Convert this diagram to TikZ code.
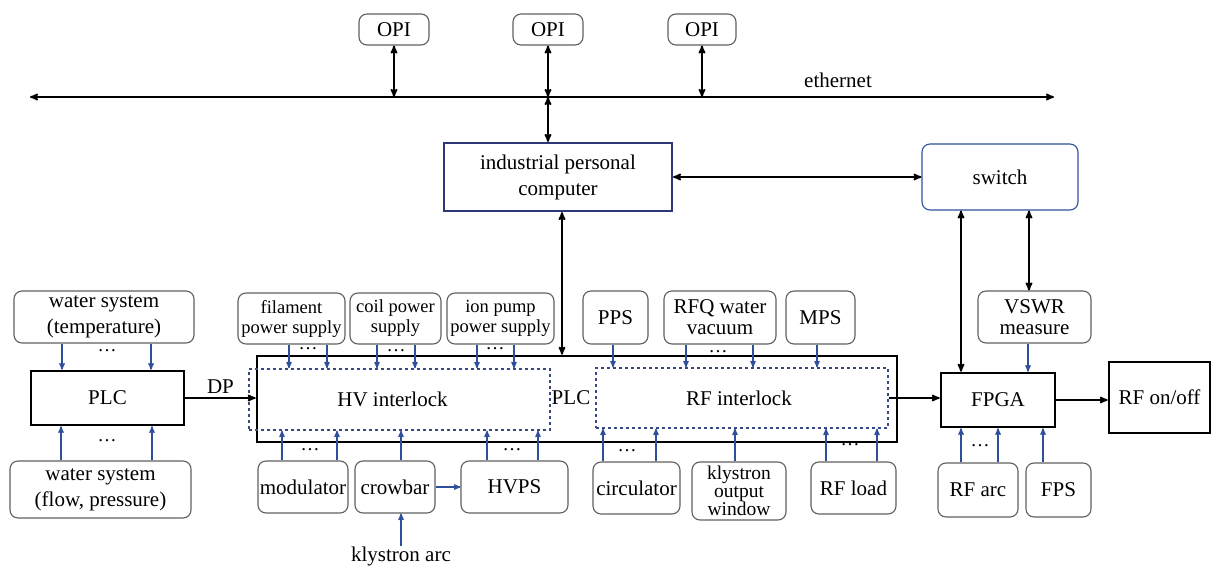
\documentclass[tikz,border=0pt]{standalone}
\usepackage{fontspec}
\setmainfont{Liberation Serif}
\usepackage{tikz}
\usetikzlibrary{arrows,calc}
\usepackage{xcolor}
\definecolor{sigblue}{RGB}{46,80,155}
\definecolor{dashnavy}{RGB}{55,72,135}
\definecolor{ipcnavy}{RGB}{45,55,120}
\definecolor{boxgray}{RGB}{95,95,95}

\begin{document}
\begin{tikzpicture}[x=1pt,y=-1pt,>=stealth',
	font=\fontsize{21}{26}\selectfont,
	rbox/.style={draw=boxgray,line width=1.1pt,rounded corners=8pt,align=center,inner sep=0pt},
	frame/.style={draw=black,line width=2.6pt,inner sep=0pt},
	dbox/.style={draw=dashnavy,dashed,line width=1.3pt,inner sep=0pt},
	small/.style={font=\fontsize{18.5}{20}\selectfont},
	tight/.style={font=\fontsize{21}{21}\selectfont},
	gap/.style={inner sep=0pt,font=\fontsize{19}{19}\selectfont},
	link/.style={draw=black,line width=1.7pt},
	sig/.style={->,draw=sigblue,line width=1.3pt}]
	\useasboundingbox (0,0) rectangle (1213,567);

	% ethernet and operator interfaces
	\node[rbox,minimum width=70,minimum height=31] (opi1) at (394,29.5) {OPI};
	\node[rbox,minimum width=70,minimum height=31] (opi2) at (548,29.5) {OPI};
	\node[rbox,minimum width=68,minimum height=31] (opi3) at (702,29.5) {OPI};
	\coordinate (ethL) at (30,97);
	\coordinate (ethR) at (1054,97);
	\node[inner sep=1pt] (ethtxt) at (838,80) {ethernet};

	\node[draw=ipcnavy,line width=2.2pt,align=center,inner sep=0pt,minimum width=228,minimum height=68] (ipc) at (558,177) {industrial personal\\computer};
	\node[rbox,draw=sigblue,minimum width=156,minimum height=66] (sw) at (1000,177) {switch};

	% PLC side
	\node[rbox,minimum width=180,minimum height=52] (wst) at (104,317) {water system\\(temperature)};
	\node[frame,minimum width=153,minimum height=54] (plcs) at (107.5,398) {PLC};
	\node[rbox,minimum width=181,minimum height=57] (wsf) at (100.5,489.5) {water system\\(flow, pressure)};

	\node[frame,minimum width=640,minimum height=86] (plc) at (577,399) {};
	\node[inner sep=1pt] (plctxt) at (571,398) {PLC};
	\node[dbox,minimum width=301,minimum height=61] (hv) at (399.5,399.5) {HV interlock\hspace*{14pt}};
	\node[dbox,minimum width=292,minimum height=60] (rf) at (742,398) {RF interlock\hspace*{6pt}};

	\node[rbox,small,minimum width=107,minimum height=51] (fil) at (291.5,318.5) {filament\\power supply};
	\node[rbox,small,minimum width=91,minimum height=51] (coil) at (395.5,318.5) {coil power\\supply};
	\node[rbox,small,minimum width=107,minimum height=51] (ion) at (500.5,318.5) {ion pump\\power supply};
	\node[rbox,minimum width=65,minimum height=53] (pps) at (615.5,317.5) {PPS};
	\node[rbox,tight,minimum width=112,minimum height=53] (rfq) at (720,317.5) {RFQ water\\vacuum};
	\node[rbox,minimum width=69,minimum height=53] (mps) at (820.5,317.5) {MPS};

	\node[rbox,minimum width=90,minimum height=52] (mod) at (303,487) {modulator};
	\node[rbox,minimum width=80,minimum height=52] (crow) at (395,487) {crowbar};
	\node[rbox,minimum width=107,minimum height=52] (hvps) at (514.5,487) {HVPS};
	\node[inner sep=1pt,anchor=north] (karc) at (401,546) {klystron arc};
	\node[rbox,minimum width=87,minimum height=52] (circ) at (636.5,488) {circulator};
	\node[rbox,font=\fontsize{19.5}{18}\selectfont,minimum width=94,minimum height=58] (kow) at (739,491) {klystron\\output\\window};
	\node[rbox,minimum width=85,minimum height=52] (load) at (853.5,488) {RF load};

	% FPGA side
	\node[rbox,tight,minimum width=113,minimum height=52] (vswr) at (1034.5,317) {VSWR\\measure};
	\node[frame,minimum width=114,minimum height=54] (fpga) at (998,400) {FPGA};
	\node[frame,minimum width=101,minimum height=71] (rfo) at (1159.5,397.5) {RF on/off};
	\node[rbox,minimum width=80,minimum height=54] (arc) at (978,490) {RF arc};
	\node[rbox,minimum width=65,minimum height=54] (fps) at (1058.5,490) {FPS};

	% dots
	\node[gap] (d1) at (107,351) {\dots};
	\node[gap] (d2) at (107,441) {\dots};
	\node[gap] (d3) at (308,349) {\dots};
	\node[gap] (d4) at (396,351) {\dots};
	\node[gap] (d5) at (495,349) {\dots};
	\node[gap] (d6) at (718,352) {\dots};
	\node[gap] (d7) at (310,450) {\dots};
	\node[gap] (d8) at (512,450) {\dots};
	\node[gap] (d9) at (627,451) {\dots};
	\node[gap] (d10) at (850,445) {\dots};
	\node[gap] (d11) at (980,446) {\dots};

	% network links
	\draw[link,<->] (ethL) -- (ethR);
	\draw[link,<->] (opi1.south) -- (opi1.south |- ethL);
	\draw[link,<->] (opi2.south) -- (opi2.south |- ethL);
	\draw[link,<->] (opi3.south) -- (opi3.south |- ethL);
	\draw[link,<->] (opi2.south |- ethL) -- (opi2.south |- ipc.north);
	\draw[link,<->] (ipc.east) -- (sw.west);
	\draw[link,<->] ([xshift=4pt]ipc.south) -- ([xshift=4pt]ipc.south |- plc.north);
	\draw[link,<->] ([xshift=-39pt]sw.south) -- ([xshift=-39pt]sw.south |- fpga.north);
	\draw[link,<->] ([xshift=29pt]sw.south) -- ([xshift=29pt]sw.south |- vswr.north);

	% main path
	\draw[link,->] (plcs.east) -- node[above] {DP} (plcs.east -| plc.west);
	\draw[link,->] (rf.east) -- (rf.east -| fpga.west);
	\draw[link,->] (fpga.east) -- (fpga.east -| rfo.west);

	% signals into PLC
	\draw[sig] ([xshift=-42pt]wst.south) -- ([xshift=-42pt]wst.south |- plcs.north);
	\draw[sig] ([xshift=47pt]wst.south) -- ([xshift=47pt]wst.south |- plcs.north);
	\draw[sig] ([xshift=-39.5pt]wsf.north) -- ([xshift=-39.5pt]wsf.north |- plcs.south);
	\draw[sig] ([xshift=51.5pt]wsf.north) -- ([xshift=51.5pt]wsf.north |- plcs.south);

	% signals into HV interlock
	\draw[sig] ([xshift=-2.5pt]fil.south) -- ([xshift=-2.5pt]fil.south |- hv.north);
	\draw[sig] ([xshift=35.5pt]fil.south) -- ([xshift=35.5pt]fil.south |- hv.north);
	\draw[sig] ([xshift=-18.5pt]coil.south) -- ([xshift=-18.5pt]coil.south |- hv.north);
	\draw[sig] ([xshift=19.5pt]coil.south) -- ([xshift=19.5pt]coil.south |- hv.north);
	\draw[sig] ([xshift=-23.5pt]ion.south) -- ([xshift=-23.5pt]ion.south |- hv.north);
	\draw[sig] ([xshift=13.5pt]ion.south) -- ([xshift=13.5pt]ion.south |- hv.north);
	\draw[sig] ([xshift=-21pt]mod.north) -- ([xshift=-21pt]mod.north |- hv.south);
	\draw[sig] ([xshift=34pt]mod.north) -- ([xshift=34pt]mod.north |- hv.south);
	\draw[sig] ([xshift=6pt]crow.north) -- ([xshift=6pt]crow.north |- hv.south);
	\draw[sig] ([xshift=-27.5pt]hvps.north) -- ([xshift=-27.5pt]hvps.north |- hv.south);
	\draw[sig] ([xshift=23.5pt]hvps.north) -- ([xshift=23.5pt]hvps.north |- hv.south);
	\draw[sig] (crow.east) -- (hvps.west);
	\draw[sig] ([xshift=6pt]crow.south |- karc.north) -- ([xshift=6pt]crow.south);

	% signals into RF interlock
	\draw[sig] ([xshift=-2.5pt]pps.south) -- ([xshift=-2.5pt]pps.south |- rf.north);
	\draw[sig] ([xshift=-34pt]rfq.south) -- ([xshift=-34pt]rfq.south |- rf.north);
	\draw[sig] ([xshift=33pt]rfq.south) -- ([xshift=33pt]rfq.south |- rf.north);
	\draw[sig] ([xshift=-3.5pt]mps.south) -- ([xshift=-3.5pt]mps.south |- rf.north);
	\draw[sig] ([xshift=-33.5pt]circ.north) -- ([xshift=-33.5pt]circ.north |- rf.south);
	\draw[sig] ([xshift=19.5pt]circ.north) -- ([xshift=19.5pt]circ.north |- rf.south);
	\draw[sig] ([xshift=-4pt]kow.north) -- ([xshift=-4pt]kow.north |- rf.south);
	\draw[sig] ([xshift=-27.5pt]load.north) -- ([xshift=-27.5pt]load.north |- rf.south);
	\draw[sig] ([xshift=23.5pt]load.north) -- ([xshift=23.5pt]load.north |- rf.south);

	% signals into FPGA
	\draw[sig] ([xshift=-6.5pt]vswr.south) -- ([xshift=-6.5pt]vswr.south |- fpga.north);
	\draw[sig] ([xshift=-17pt]arc.north) -- ([xshift=-17pt]arc.north |- fpga.south);
	\draw[sig] ([xshift=20pt]arc.north) -- ([xshift=20pt]arc.north |- fpga.south);
	\draw[sig] ([xshift=-15.5pt]fps.north) -- ([xshift=-15.5pt]fps.north |- fpga.south);
\end{tikzpicture}
\end{document}
